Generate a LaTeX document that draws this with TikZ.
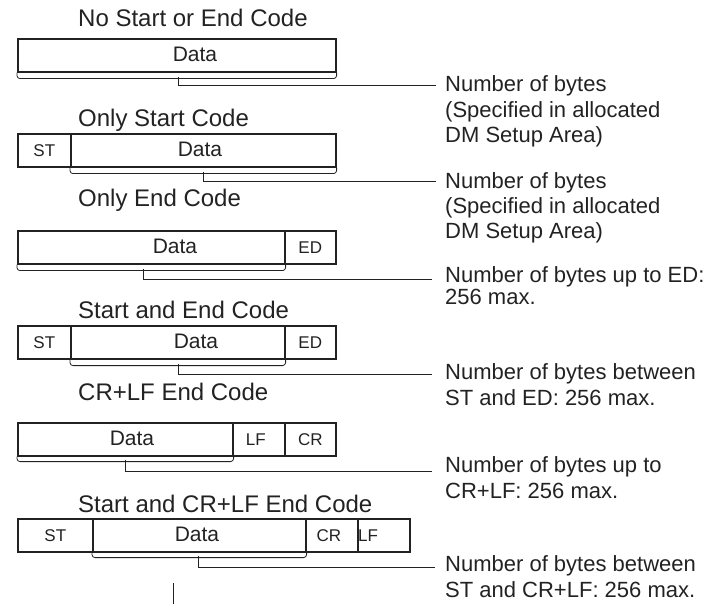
\documentclass[tikz,border=0pt]{standalone}
\usepackage{fontspec}
\setmainfont{Liberation Sans}
\definecolor{ink}{HTML}{222222}
\begin{document}
\begin{tikzpicture}[x=1pt,y=-1pt,
  cell/.style={draw=ink, line width=1.6pt, inner sep=0pt, minimum height=33pt, anchor=north west},
  small/.style={text=ink, inner sep=0pt, font=\fontsize{17}{17}\selectfont},
  datatxt/.style={text=ink, inner sep=0pt, font=\fontsize{21}{21}\selectfont},
  ttl/.style={text=ink, inner sep=0pt, anchor=base west, font=\fontsize{24}{24}\selectfont},
  lbl/.style={text=ink, inner sep=0pt, anchor=base west, align=left, font=\fontsize{22}{25.5}\selectfont},
  brace/.style={draw=ink, line width=0.8pt, rounded corners=3pt},
  lead/.style={draw=ink, line width=1pt}
]
\useasboundingbox (0,0) rectangle (707,604);

% Row 1
\node[ttl] (t1) at (78,27) {No Start or End Code};
\node[cell, minimum width=318pt] (r1d) at (17,38) {};
\node[datatxt] (r1dt) at (195,54.5) {Data};
\draw[brace] (r1d.south west) -- ([yshift=-6pt]r1d.south west) -- ([yshift=-6pt]r1d.south east) -- (r1d.south east);
\coordinate (r1b) at (178,77);
\coordinate (r1e) at (436,86);
\draw[lead] (r1b) |- (r1e);
\node[lbl] (l1) at (445,143) {Number of bytes\\(Specified in allocated\\DM Setup Area)};

% Row 2
\node[ttl] (t2) at (78,127) {Only Start Code};
\node[cell, minimum width=53pt] (r2s) at (17,133) {};
\node[small] at (r2s.center) {ST};
\node[cell, minimum width=265pt] (r2d) at (70,133) {};
\node[datatxt] (r2dt) at (200,149.5) {Data};
\draw[brace] (r2d.south west) -- ([yshift=-6pt]r2d.south west) -- ([yshift=-6pt]r2d.south east) -- (r2d.south east);
\coordinate (r2b) at (203,172);
\coordinate (r2e) at (436,182);
\draw[lead] (r2b) |- (r2e);
\node[lbl] (l2) at (445,239) {Number of bytes\\(Specified in allocated\\DM Setup Area)};

% Row 3
\node[ttl] (t3) at (78,207) {Only End Code};
\node[cell, minimum width=267pt] (r3d) at (17,230) {};
\node[datatxt] (r3dt) at (175,246.5) {Data};
\node[cell, minimum width=51pt] (r3e) at (284,230) {};
\node[small] at (r3e.center) {ED};
\draw[brace] (r3d.south west) -- ([yshift=-6pt]r3d.south west) -- ([yshift=-6pt]r3d.south east) -- (r3d.south east);
\coordinate (r3b) at (143,269);
\coordinate (r3e) at (432,279);
\draw[lead] (r3b) |- (r3e);
\node[lbl, font=\fontsize{22}{22}\selectfont] (l3) at (445,304) {Number of bytes up to ED:\\256 max.};

% Row 4
\node[ttl] (t4) at (78,318) {Start and End Code};
\node[cell, minimum width=53pt] (r4s) at (17,325) {};
\node[small] at (r4s.center) {ST};
\node[cell, minimum width=214pt] (r4d) at (70,325) {};
\node[datatxt] (r4dt) at (196,341.5) {Data};
\node[cell, minimum width=51pt] (r4e) at (284,325) {};
\node[small] at (r4e.center) {ED};
\draw[brace] (r4d.south west) -- ([yshift=-6pt]r4d.south west) -- ([yshift=-6pt]r4d.south east) -- (r4d.south east);
\coordinate (r4b) at (178,364);
\coordinate (r4e) at (432,374);
\draw[lead] (r4b) |- (r4e);
\node[lbl] (l4) at (445,405) {Number of bytes between\\ST and ED: 256 max.};

% Row 5
\node[ttl] (t5) at (78,400) {CR+LF End Code};
\node[cell, minimum width=215pt] (r5d) at (17,422) {};
\node[datatxt] (r5dt) at (132,438.5) {Data};
\node[cell, minimum width=52pt] (r5l) at (232,422) {};
\node[small] at ([xshift=-3pt]r5l.center) {LF};
\node[cell, minimum width=51pt] (r5c) at (284,422) {};
\node[small] at (r5c.center) {CR};
\draw[brace] (r5d.south west) -- ([yshift=-5pt]r5d.south west) -- ([yshift=-5pt]r5d.south east) -- (r5d.south east);
\coordinate (r5b) at (125,460);
\coordinate (r5e) at (432,471);
\draw[lead] (r5b) |- (r5e);
\node[lbl] (l5) at (445,498) {Number of bytes up to\\CR+LF: 256 max.};

% Row 6
\node[ttl] (t6) at (78,512) {Start and CR+LF End Code};
\node[cell, minimum width=75pt] (r6s) at (17,518) {};
\node[small] at (r6s.center) {ST};
\node[cell, minimum width=213pt] (r6d) at (92,518) {};
\node[datatxt] (r6dt) at (197,534.5) {Data};
\node[cell, minimum width=52pt] (r6c) at (305,518) {};
\node[small] at ([xshift=-3pt]r6c.center) {CR};
\node[cell, minimum width=52pt] (r6l) at (357,518) {};
\node[small, anchor=west] at ([xshift=1pt]r6l.west) {LF};
\draw[brace] (r6d.south west) -- ([yshift=-5pt]r6d.south west) -- ([yshift=-5pt]r6d.south east) -- (r6d.south east);
\coordinate (r6b) at (198,556);
\coordinate (r6e) at (435,567);
\draw[lead] (r6b) |- (r6e);
\node[lbl] (l6) at (445,597) {Number of bytes between\\ST and CR+LF: 256 max.};

% stray tick
\coordinate (k1) at (173,583);
\coordinate (k2) at (173,604);
\draw[lead] (k1) -- (k2);
\end{tikzpicture}
\end{document}
